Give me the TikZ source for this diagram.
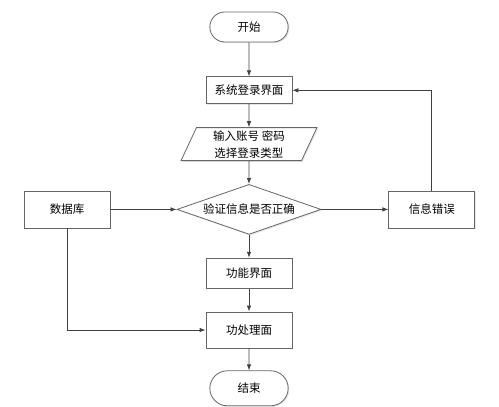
\documentclass[tikz,border=0pt]{standalone}
\usepackage{fontspec}
\setmainfont{Noto Sans CJK SC}
\usetikzlibrary{shapes.geometric, shapes.misc, arrows.meta, positioning, shadows}

\begin{document}
\begin{tikzpicture}[x=1pt, y=-1pt, node distance=23pt and 66pt, >={Latex[length=6pt,width=4.5pt]},
    base/.style={draw=black!60, line width=0.8pt, fill=white, text centered, font=\fontsize{11.5}{17}\selectfont,
        drop shadow={shadow xshift=1.2pt, shadow yshift=-1.2pt, fill=black!20}},
    proc/.style={base, rectangle, minimum width=86pt, minimum height=30pt},
    term/.style={base, rounded rectangle, minimum width=85pt, minimum height=30pt},
    io/.style={base, trapezium, trapezium left angle=70, trapezium right angle=110, trapezium stretches=true,
        minimum width=136pt, minimum height=33pt, inner sep=1pt, align=center},
    judge/.style={base, diamond, aspect=2.9, inner sep=1pt, minimum width=144pt, minimum height=50pt},
    line/.style={draw=black!75, line width=0.8pt, ->}]

    \useasboundingbox (0,0) rectangle (499,407);

    \node (start) [term] at (249,27) {开始};
    \node (login) [proc, below=34pt of start, minimum height=27pt] {系统登录界面};
    \node (input) [io, below=of login] {输入账号 密码\\选择登录类型};
    \node (check) [judge, below=of input] {验证信息是否正确};
    \node (db) [proc, left=66pt of check, minimum height=37pt] {数据库};
    \node (err) [proc, right=67pt of check, minimum height=37pt] {信息错误};
    \node (func) [proc, below=of check] {功能界面};
    \node (deal) [proc, below=of func, minimum height=36pt] {功处理面};
    \node (end) [term, below=22pt of deal, minimum height=35pt] {结束};

    \draw[line] (start) -- (login);
    \draw[line] (login) -- (input);
    \draw[line] (input) -- (check);
    \draw[line] (check) -- (func);
    \draw[line] (func) -- (deal);
    \draw[line] (deal) -- (end);
    \draw[line] (db) -- (check);
    \draw[line] (check) -- (err);
    %% back to login
    \draw[line] (err.north) |- (login.east);
    \draw[line] (db.south) |- (deal.west);

\end{tikzpicture}
\end{document}
